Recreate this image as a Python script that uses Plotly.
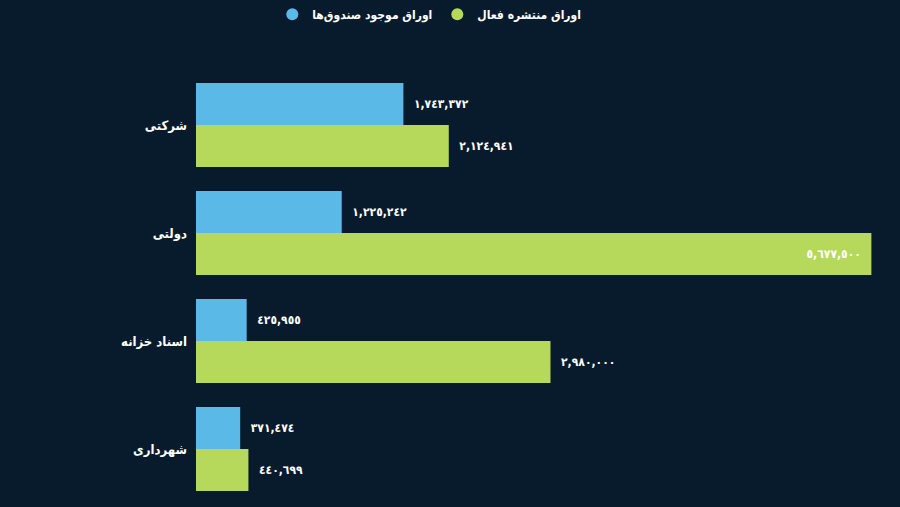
import plotly.graph_objects as go

categories = ["شرکتی", "دولتی", "اسناد خزانه", "شهرداری"]
series_names = ["اوراق موجود صندوق‌ها", "اوراق منتشره فعال"]
funds_values = [1743372, 1225242, 425955, 371474]
active_values = [2124941, 5677500, 2980000, 440699]

BG = "#081b2c"
BLUE = "#5ab9e6"
GREEN = "#b7d95b"
FONT = "DejaVu Sans Condensed, DejaVu Sans"

DIGITS = str.maketrans("0123456789", "٠١٢٣٤٥٦٧٨٩")
NB = "\u00a0\u00a0"


def fmt(v):
    return f"{v:,}".translate(DIGITS)


vmax = max(funds_values + active_values)


def labels(vals):
    out, pos = [], []
    for v in vals:
        if v > 0.9 * vmax:
            out.append(fmt(v) + NB)
            pos.append("inside")
        else:
            out.append(NB + fmt(v))
            pos.append("outside")
    return out, pos


fig = go.Figure()
for name, vals, col in [(series_names[0], funds_values, BLUE), (series_names[1], active_values, GREEN)]:
    txt, pos = labels(vals)
    tf = dict(color="white", size=12, family=FONT, weight="bold")
    fig.add_trace(go.Bar(
        y=categories, x=vals, orientation="h", name=name,
        marker=dict(color=col, line=dict(width=0)),
        text=txt, textposition=pos, insidetextanchor="end",
        textfont=tf, outsidetextfont=tf, insidetextfont=tf,
        cliponaxis=False, showlegend=False,
    ))
    fig.add_trace(go.Scatter(
        x=[None], y=[None], mode="markers", name=name,
        marker=dict(color=col, size=12, symbol="circle"),
        showlegend=True,
    ))

fig.update_layout(
    width=900, height=507,
    paper_bgcolor=BG, plot_bgcolor=BG,
    barmode="group", bargap=0.222, bargroupgap=0,
    margin=dict(l=196, r=20, t=71, b=4),
    font=dict(family=FONT, color="white", size=13),
    legend=dict(
        orientation="h", xref="container", yref="container",
        x=0.477, xanchor="center", y=0.972, yanchor="middle",
        font=dict(color="white", size=12, family=FONT, weight="bold"),
        bgcolor="rgba(0,0,0,0)", itemwidth=30, tracegroupgap=0,
    ),
)
fig.update_xaxes(range=[0, 5750000], showgrid=False, zeroline=False,
                 showticklabels=False, showline=False)
fig.update_yaxes(autorange="reversed", showgrid=False, zeroline=False, showline=False,
                 tickfont=dict(color="white", size=13, family=FONT, weight="bold"),
                 ticklabelstandoff=8)

fig.write_html(
    "out.html",
    config={"displayModeBar": False},
    post_script="document.body.style.margin='0';document.body.style.background='" + BG + "';",
)
